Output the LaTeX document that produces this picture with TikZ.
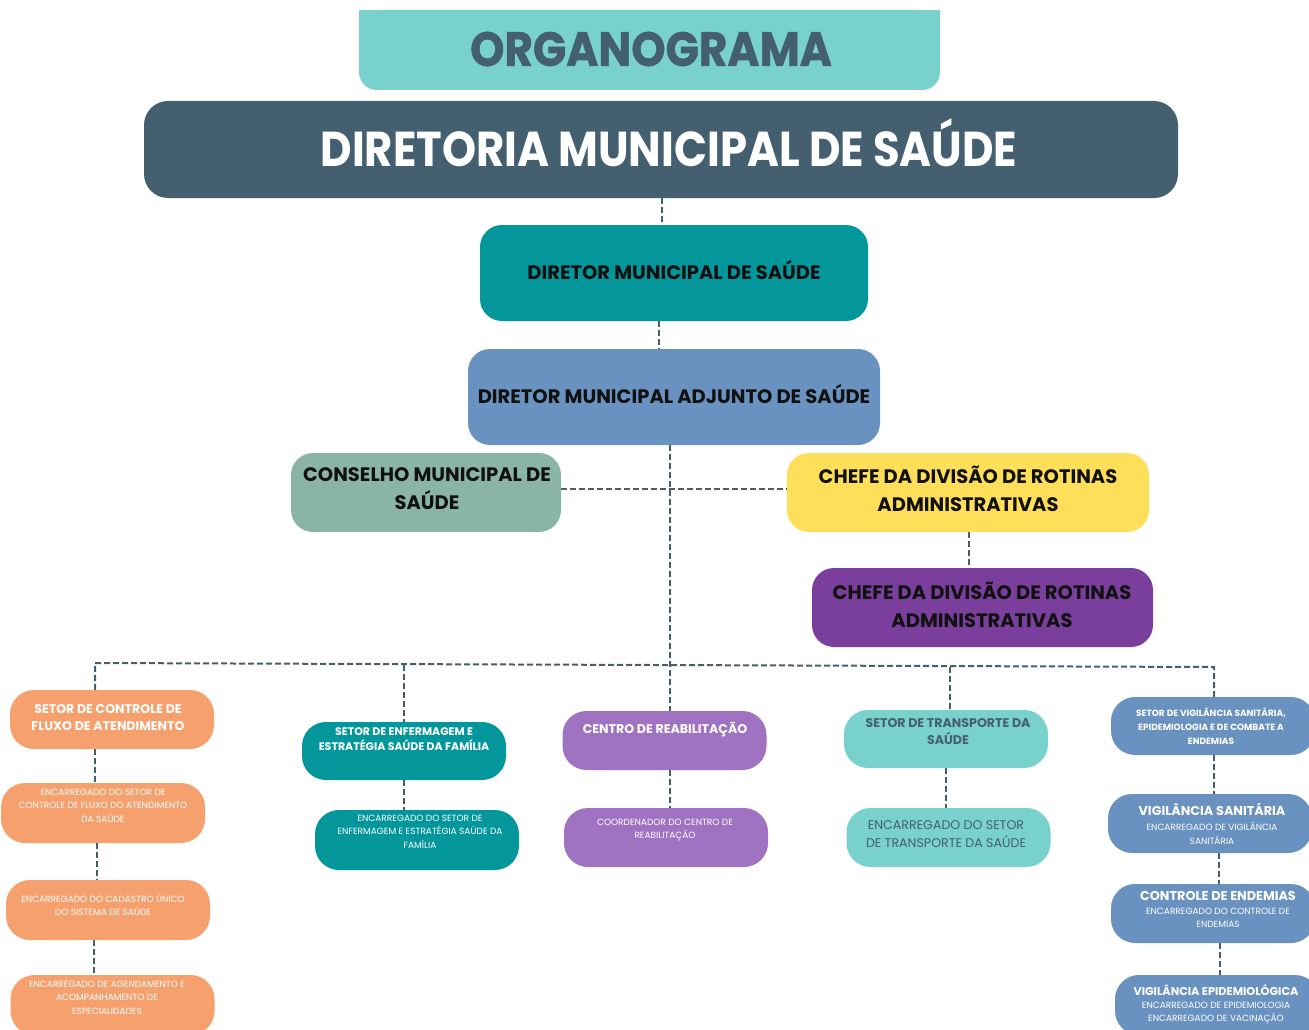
\documentclass[tikz,border=0pt]{standalone}
\usepackage{fontspec}
\setmainfont{Poppins}
\definecolor{slate}{HTML}{445F70}
\definecolor{lteal}{HTML}{79D1CD}
\definecolor{dteal}{HTML}{03969B}
\definecolor{sblue}{HTML}{6A92C0}
\definecolor{sage}{HTML}{8AB4A8}
\definecolor{yel}{HTML}{FFDE59}
\definecolor{dpurp}{HTML}{7A3E9D}
\definecolor{lilac}{HTML}{A073C2}
\definecolor{orng}{HTML}{F6A06E}
\definecolor{ink}{HTML}{111111}
\tikzset{
  box/.style={inner sep=0pt, draw=none, rounded corners=#1},
  box/.default=22,
  pill/.style={inner sep=0pt, draw=none, rounded corners=24, minimum width=204, minimum height=59},
  conn/.style={draw=slate, line width=2pt, dash pattern=on 6pt off 3pt},
  t/.style={inner sep=0pt, align=center},
  big/.style={t, font=\bfseries\fontsize{19.5}{28}\selectfont, text=ink},
  hd/.style={t, font=\bfseries\fontsize{12.6}{17}\selectfont, text=white},
  sm/.style={t, font=\fontsize{9}{13.5}\selectfont, text=white},
  ttl/.style={inner sep=0pt, anchor=base, text=white, font=\bfseries\fontsize{12.8}{16}\selectfont},
}
\begin{document}
\begin{tikzpicture}[x=1pt,y=-1pt]
\useasboundingbox (0,0) rectangle (1309,1030);
\clip (0,0) rectangle (1309,1030);
% title
\node[box=18, fill=lteal, minimum width=581, minimum height=80] (org) at (649.5,50) {};
\fill[lteal] (359,10) rectangle (940,40);
\node[t, text=slate, font=\bfseries\fontsize{48}{50}\selectfont, transform shape, xscale=0.91] (orgt) at (651,49) {\addfontfeature{FakeBold=1.2}ORGANOGRAMA};
\node[box=24, fill=slate, minimum width=1034, minimum height=97] (dir) at (661,149.5) {};
\node[t, text=white, font=\bfseries\fontsize{49}{50}\selectfont, transform shape, xscale=0.885] (dirt) at (669,143) {DIRETORIA MUNICIPAL DE SAÚDE};
\node[box, fill=dteal, minimum width=388, minimum height=96] (dmn) at (674,273) {};
\node[big] (dmnt) at (674,270) {DIRETOR MUNICIPAL DE SAÚDE};
\node[box, fill=sblue, minimum width=412, minimum height=96] (adj) at (674,397) {};
\node[big] (adjt) at (674,394) {DIRETOR MUNICIPAL ADJUNTO DE SAÚDE};
\node[box, fill=sage, minimum width=270, minimum height=79] (cons) at (426,492.5) {};
\node[big] (const) at (427,489) {CONSELHO MUNICIPAL DE\\SAÚDE};
\node[box, fill=yel, minimum width=362, minimum height=79] (ch1) at (968,492.5) {};
\node[big] (ch1t) at (968,489) {CHEFE DA DIVISÃO DE ROTINAS\\ADMINISTRATIVAS};
\node[box, fill=dpurp, minimum width=341, minimum height=79] (ch2) at (982.5,607.5) {};
\node[big] (ch2t) at (982,605) {CHEFE DA DIVISÃO DE ROTINAS\\ADMINISTRATIVAS};
% column 1
\node[pill, fill=orng] (c1a) at (112,719.5) {};
\node[hd] at (108,717.5) {SETOR DE CONTROLE DE\\FLUXO DE ATENDIMENTO};
\node[pill, fill=orng, minimum height=60] (c1b) at (103,813) {};
\node[sm] at (103,805.5) {ENCARREGADO DO SETOR DE\\CONTROLE DE FLUXO DO ATENDIMENTO\\DA SAÚDE};
\node[pill, fill=orng, minimum height=60] (c1c) at (108,910) {};
\node[sm] at (103,905) {ENCARREGADO DO CADASTRO ÚNICO\\DO SISTEMA DE SAÚDE};
\node[pill, fill=orng, minimum height=60] (c1d) at (112.5,1005) {};
\node[sm] at (107,997.5) {ENCARREGADO DE AGENDAMENTO E\\ACOMPANHAMENTO DE\\ESPECIALIDADES};
% column 2
\node[pill, fill=dteal, minimum height=58] (c2a) at (404,751) {};
\node[hd, font=\bfseries\fontsize{11}{15}\selectfont] at (404,739.5) {SETOR DE ENFERMAGEM E\\ESTRATÉGIA SAÚDE DA FAMÍLIA};
\node[pill, fill=dteal, minimum height=60] (c2b) at (417,840) {};
\node[sm] at (420,831.5) {ENCARREGADO DO SETOR DE\\ENFERMAGEM E ESTRATÉGIA SAÚDE DA\\FAMÍLIA};
% column 3
\node[pill, fill=lilac] (c3a) at (664.5,740.5) {};
\node[hd] at (665,730) {CENTRO DE REABILITAÇÃO};
\node[pill, fill=lilac] (c3b) at (666,837.5) {};
\node[sm] at (665,830) {COORDENADOR DO CENTRO DE\\REABILITAÇÃO};
% column 4
\node[pill, fill=lteal, minimum height=58] (c4a) at (946,739) {};
\node[hd, text=slate] at (948,732) {SETOR DE TRANSPORTE DA\\SAÚDE};
\node[pill, fill=lteal] (c4b) at (948.5,837.5) {};
\node[t, text=slate, font=\fontsize{12.6}{18}\selectfont] at (946,834) {ENCARREGADO DO SETOR\\DE TRANSPORTE DA SAÚDE};
% column 5
\node[pill, fill=sblue, minimum height=58] (c5a) at (1213,726) {};
\node[t, text=white, font=\bfseries\fontsize{9}{14}\selectfont] at (1211,726) {SETOR DE VIGILÂNCIA SANITÁRIA,\\EPIDEMIOLOGIA E DE COMBATE A\\ENDEMIAS};
\node[pill, fill=sblue] (c5b) at (1210,823.5) {};
\node[ttl] at (1212,815.5) {VIGILÂNCIA SANITÁRIA};
\node[sm, font=\fontsize{9}{14}\selectfont] at (1212,833.5) {ENCARREGADO DE VIGILÂNCIA\\SANITÁRIA};
\node[pill, fill=sblue] (c5c) at (1213,913.5) {};
\node[ttl] at (1218,900.5) {CONTROLE DE ENDEMIAS};
\node[sm, font=\fontsize{9}{13}\selectfont] at (1218,918) {ENCARREGADO DO CONTROLE DE\\ENDEMIAS};
\node[pill, fill=sblue, minimum height=60] (c5d) at (1217,1005) {};
\node[ttl, font=\bfseries\fontsize{11.3}{16}\selectfont] at (1216,995.5) {VIGILÂNCIA EPIDEMIOLÓGICA};
\node[sm, font=\fontsize{9}{13}\selectfont] at (1216,1013) {ENCARREGADO DE EPIDEMIOLOGIA\\ENCARREGADO DE VACINAÇÃO};
% connectors
\draw[conn] (dir.south -| 662,0) -- (dmn.north -| 662,0);
\draw[conn] (dmn.south -| 659,0) -- (adj.north -| 659,0);
\draw[conn] (adj.south -| 670,0) -- (c3a.north -| 670,0);
\draw[conn] (cons.east |- 0,489) -- (ch1.west |- 0,489);
\draw[conn] (ch1.south -| 969,0) -- (ch2.north -| 969,0);
\coordinate (busL) at (95,663);
\coordinate (busR) at (1214,667);
\draw[conn] (c1a.north -| busL) -- (busL) -- (busR) -- (c5a.north -| busR);
\draw[conn] (404,664.5) -- (c2a.north -| 404,0);
\draw[conn] (950,666.5) -- (c4a.north -| 950,0);
\draw[conn] (c1a.south -| 95,0) -- (c1b.north -| 95,0);
\draw[conn] (c1b.south -| 97,0) -- (c1c.north -| 97,0);
\draw[conn] (c1c.south -| 94,0) -- (c1d.north -| 94,0);
\draw[conn] (c2a.south -| 404,0) -- (c2b.north -| 404,0);
\draw[conn] (c3a.south -| 670,0) -- (c3b.north -| 670,0);
\draw[conn] (c4a.south -| 946,0) -- (c4b.north -| 946,0);
\draw[conn] (c5a.south -| 1214,0) -- (c5b.north -| 1214,0);
\draw[conn] (c5b.south -| 1219,0) -- (c5c.north -| 1219,0);
\draw[conn] (c5c.south -| 1220,0) -- (c5d.north -| 1220,0);
\end{tikzpicture}
\end{document}
